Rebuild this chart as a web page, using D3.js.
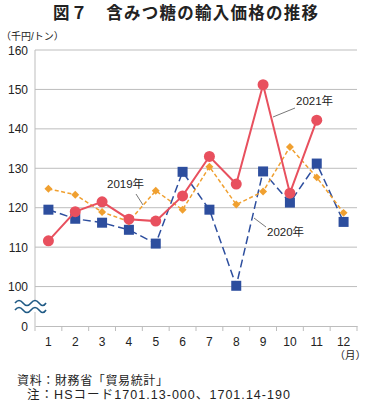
<!DOCTYPE html>
<html>
<head>
<meta charset="utf-8">
<script src="https://cdn.jsdelivr.net/npm/d3@7"></script>
<style>
  body { margin: 0; background: #fff; }
  svg text { font-family: "Liberation Sans", "Noto Sans CJK JP", sans-serif; fill: #222; }
</style>
</head>
<body>
<div id="chart"></div>
<script>
// data
const months = [1, 2, 3, 4, 5, 6, 7, 8, 9, 10, 11, 12];
const y2019 = [124.8, 123.3, 118.9, 116.5, 124.3, 119.5, 130.4, 120.8, 124.1, 135.4, 127.7, 118.7];
const y2020 = [119.5, 117.2, 116.2, 114.4, 110.9, 129.1, 119.5, 100.2, 129.2, 121.3, 131.2, 116.4];
const y2021 = [111.6, 119.0, 121.5, 117.1, 116.6, 123.0, 133.0, 126.0, 151.2, 123.7, 142.2, null];
const yTicks = [160, 150, 140, 130, 120, 110, 100];

const width = 370, height = 401;
const plotLeft = 35, plotRight = 357, plotTop = 50, plotBottom = 326;

const svg = d3.select("#chart").append("svg")
    .attr("width", width)
    .attr("height", height);

// title
svg.append("text")
    .attr("x", 53).attr("y", 19)
    .attr("textLength", 265).attr("lengthAdjust", "spacing")
    .style("font-size", "16.5px").style("font-weight", "bold")
    .style("font-family", "'Noto Sans CJK JP', sans-serif")
    .attr("fill", "#333")
    .text("図７　含みつ糖の輸入価格の推移");

svg.append("text")
    .attr("x", 1).attr("y", 40)
    .style("font-size", "10px")
    .text("（千円/トン）");

const x = d3.scaleBand().domain(months).range([plotLeft, plotRight]);
// 90 on this scale is the broken "0" position
const y = d3.scaleLinear().domain([90, 160]).range([plotBottom, plotTop]);

// grid lines
svg.append("g").selectAll("line")
    .data(yTicks)
    .enter().append("line")
    .attr("x1", plotLeft).attr("x2", plotRight)
    .attr("y1", d => y(d)).attr("y2", d => y(d))
    .attr("stroke", "#bdbdbd").attr("stroke-width", 1);

// y tick labels
svg.append("g").selectAll("text")
    .data(yTicks.concat([90]))
    .enter().append("text")
    .attr("x", 28).attr("y", d => y(d) + 4.5)
    .attr("text-anchor", "end")
    .style("font-size", "12px")
    .text(d => d === 90 ? "0" : d);

// left axis line
svg.append("line")
    .attr("x1", plotLeft).attr("x2", plotLeft)
    .attr("y1", plotTop).attr("y2", plotBottom)
    .attr("stroke", "#bdbdbd");

// bottom axis
const xAxis = svg.append("g")
    .attr("transform", `translate(0,${plotBottom})`)
    .call(d3.axisBottom(x).tickSize(0).tickPadding(11));
xAxis.select(".domain").attr("stroke", "#bdbdbd");
xAxis.selectAll("text")
    .style("font-size", "12px")
    .style("font-family", "'Liberation Sans', sans-serif")
    .attr("fill", "#222");
svg.append("g").selectAll("line")
    .data(months.map(m => x(m)).concat([plotRight]))
    .enter().append("line")
    .attr("x1", d => d).attr("x2", d => d)
    .attr("y1", plotBottom).attr("y2", plotBottom + 5)
    .attr("stroke", "#bdbdbd");

svg.append("text")
    .attr("x", 366).attr("y", 359)
    .attr("text-anchor", "end")
    .style("font-size", "10.5px")
    .text("（月）");

// break symbol
const brk = svg.append("g");
brk.append("rect").attr("x", 14).attr("y", 300).attr("width", 34).attr("height", 12).attr("fill", "#fff");
[303, 310].forEach(yy => {
  brk.append("path")
    .attr("d", `M15,${yy} q4,-5 8,0 t8,0 t8,0 t7,0`)
    .attr("fill", "none")
    .attr("stroke", "#1f5a85")
    .attr("stroke-width", 1.6);
});

const cx = m => x(m) + x.bandwidth() / 2;
const line = d3.line()
    .defined(d => d[1] != null)
    .x(d => cx(d[0]))
    .y(d => y(d[1]));

function series(vals, color, w, dash) {
  svg.append("path")
    .datum(months.map((m, i) => [m, vals[i]]))
    .attr("fill", "none")
    .attr("stroke", color)
    .attr("stroke-width", w)
    .attr("stroke-dasharray", dash)
    .attr("d", line);
  return months.map((m, i) => [m, vals[i]]).filter(d => d[1] != null);
}

// 2020
const blue = "#2d4e9e";
const pts20 = series(y2020, blue, 1.5, "8,4");
svg.append("g").selectAll("rect")
    .data(pts20).enter().append("rect")
    .attr("x", d => cx(d[0]) - 5).attr("y", d => y(d[1]) - 5)
    .attr("width", 10).attr("height", 10)
    .attr("fill", blue);

// 2019
const orange = "#f0a030";
const pts19 = series(y2019, orange, 1.5, "4,2.5");
svg.append("g").selectAll("path")
    .data(pts19).enter().append("path")
    .attr("d", d3.symbol(d3.symbolDiamond2, 40))
    .attr("transform", d => `translate(${cx(d[0])},${y(d[1])})`)
    .attr("fill", orange);

// 2021
const red = "#e8505e";
const pts21 = series(y2021, red, 2, null);
svg.append("g").selectAll("circle")
    .data(pts21).enter().append("circle")
    .attr("cx", d => cx(d[0])).attr("cy", d => y(d[1]))
    .attr("r", 5.5)
    .attr("fill", red);

// labels with leader lines
const labels = [
  { text: "2021年", x: 296, y: 105, lx1: 273, ly1: 117, lx2: 295, ly2: 108 },
  { text: "2019年", x: 107, y: 188, lx1: 136, ly1: 194, lx2: 143, ly2: 205 },
  { text: "2020年", x: 267, y: 236, lx1: 254, ly1: 218, lx2: 266, ly2: 227 }
];
labels.forEach(l => {
  svg.append("line")
    .attr("x1", l.lx1).attr("y1", l.ly1)
    .attr("x2", l.lx2).attr("y2", l.ly2)
    .attr("stroke", "#555").attr("stroke-width", 0.8);
  svg.append("text")
    .attr("x", l.x).attr("y", l.y)
    .style("font-size", "11.5px")
    .text(l.text);
});

// notes
svg.append("text")
    .attr("x", 17).attr("y", 385)
    .attr("textLength", 151).attr("lengthAdjust", "spacing")
    .style("font-size", "12px")
    .text("資料：財務省「貿易統計」");
svg.append("text")
    .attr("x", 27).attr("y", 399)
    .attr("textLength", 263).attr("lengthAdjust", "spacing")
    .style("font-size", "12.5px")
    .text("注：HSコード1701.13-000、1701.14-190");
</script>
</body>
</html>
